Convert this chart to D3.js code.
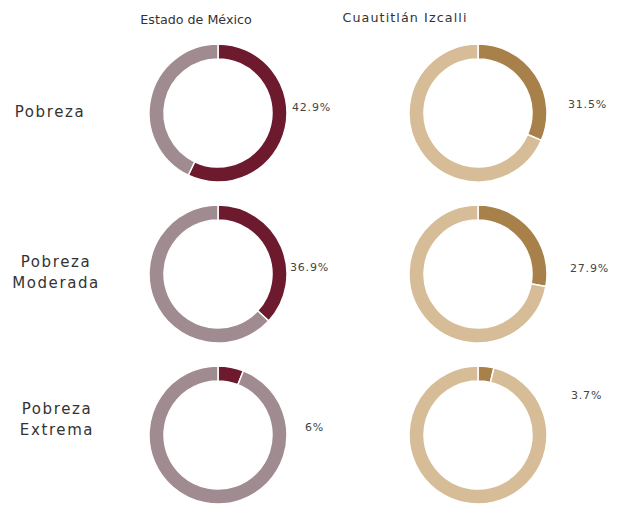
<!DOCTYPE html>
<html>
<head>
<meta charset="utf-8">
<script src="https://cdn.jsdelivr.net/npm/d3@7"></script>
<style>
  html, body { margin: 0; padding: 0; background: #ffffff; }
  svg { display: block; font-family: "DejaVu Sans", "Open Sans", sans-serif; }
</style>
</head>
<body>
<svg id="chart" width="618" height="510"></svg>
<script>
// ---- data ----
const columns = ["Estado de México", "Cuautitlán Izcalli"];
const rowLabels = [["Pobreza"], ["Pobreza", "Moderada"], ["Pobreza", "Extrema"]];
// labels printed next to each ring
const edomexLabels = ["42.9%", "36.9%", "6%"];
const izcalliLabels = ["31.5%", "27.9%", "3.7%"];
// share of each ring drawn in the dark colour
const edomexShares = [57.1, 36.9, 6.0];
const izcalliShares = [31.5, 27.9, 3.7];

// ---- layout ----
const svg = d3.select("#chart");
const colX = d3.scalePoint().domain(columns).range([218, 478]);
const rowY = d3.scalePoint().domain(d3.range(3)).range([113, 435]);
const rOuter = 69, rInner = 54;

const palettes = {
  "Estado de México": ["#6d1a2f", "#a08b90"],
  "Cuautitlán Izcalli": ["#a8804a", "#d6bd98"]
};
const labelOffsets = {
  "Estado de México": [[74, -6], [72, -7], [87, -8]],
  "Cuautitlán Izcalli": [[90, -9], [92, -6], [93, -40]]
};
const seriesShares = { "Estado de México": edomexShares, "Cuautitlán Izcalli": izcalliShares };
const seriesLabels = { "Estado de México": edomexLabels, "Cuautitlán Izcalli": izcalliLabels };

const pie = d3.pie().sort(null).value(d => d.v).startAngle(0).endAngle(2 * Math.PI);
const arc = d3.arc().innerRadius(rInner).outerRadius(rOuter);

// column titles
const titleStyle = {
  "Estado de México": { x: 196, y: 24, ls: 0 },
  "Cuautitlán Izcalli": { x: 405, y: 22, ls: 1.1 }
};
svg.selectAll("text.title").data(columns).enter().append("text")
  .attr("class", "title")
  .attr("x", d => titleStyle[d].x)
  .attr("y", d => titleStyle[d].y)
  .attr("text-anchor", "middle")
  .attr("font-size", 12.7)
  .attr("letter-spacing", d => titleStyle[d].ls)
  .attr("fill", "#333")
  .text(d => d);

// row labels
const rowLabelX = [50, 56, 57];
const rowLabelShift = [-1, -2, -16];
rowLabels.forEach((lines, i) => {
  const cy = rowY(i);
  const t = svg.append("text")
    .attr("text-anchor", "middle")
    .attr("font-size", 15)
    .attr("letter-spacing", 1.6)
    .attr("fill", "#333");
  const lh = 21;
  const y0 = cy - (lines.length - 1) * lh / 2 + 5 + rowLabelShift[i];
  lines.forEach((ln, j) => {
    t.append("tspan").attr("x", rowLabelX[i]).attr("y", y0 + j * lh).text(ln);
  });
});

// rings
columns.forEach(col => {
  const shares = seriesShares[col];
  const labels = seriesLabels[col];
  shares.forEach((v, i) => {
    const cx = colX(col), cy = rowY(i);
    const g = svg.append("g").attr("transform", `translate(${cx},${cy})`);
    const data = [{ v: v, k: 0 }, { v: 100 - v, k: 1 }];
    g.selectAll("path").data(pie(data)).enter().append("path")
      .attr("d", arc)
      .attr("fill", d => palettes[col][d.data.k])
      .attr("stroke", "#ffffff")
      .attr("stroke-width", 1.5);
    const off = labelOffsets[col][i];
    svg.append("text")
      .attr("x", cx + off[0])
      .attr("y", cy + off[1] + 4)
      .attr("font-size", 11)
      .attr("letter-spacing", 0.8)
      .attr("fill", "#444")
      .text(labels[i]);
  });
});
</script>
</body>
</html>
